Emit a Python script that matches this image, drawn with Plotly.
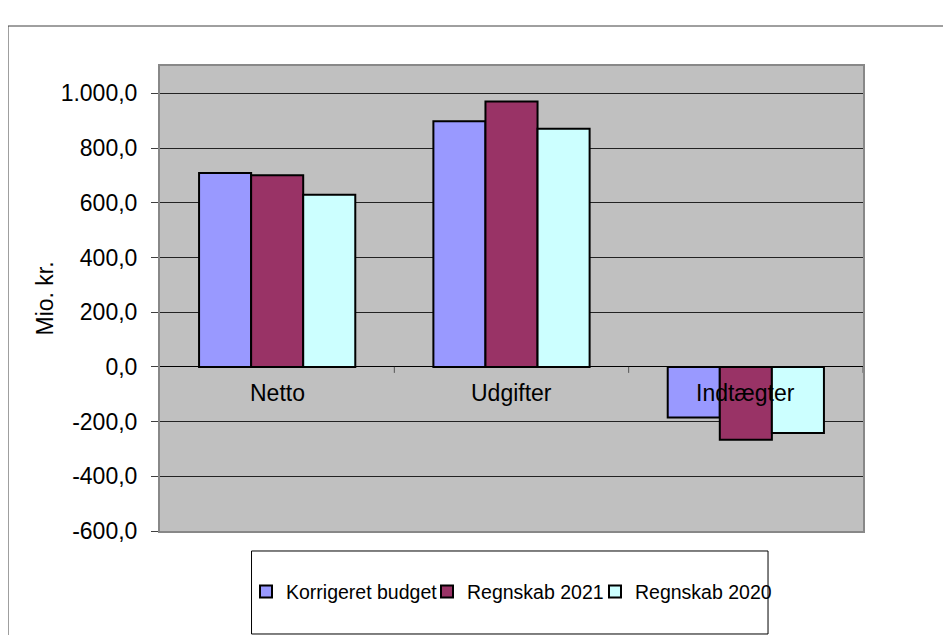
import plotly.graph_objects as go

categories = ["Netto", "Udgifter", "Indtægter"]
series_names = ["Korrigeret budget", "Regnskab 2021", "Regnskab 2020"]
korrigeret_budget = [709, 898, -185]
regnskab_2021 = [701, 970, -266]
regnskab_2020 = [629, 871, -242]
series_values = [korrigeret_budget, regnskab_2021, regnskab_2020]
series_colors = ["#9999FF", "#993366", "#CCFFFF"]

y_tickvals = [-600, -400, -200, 0, 200, 400, 600, 800, 1000]
y_ticktext = ["-600,0", "-400,0", "-200,0", "0,0", "200,0", "400,0", "600,0", "800,0", "1.000,0"]
y_title = "Mio. kr."

FONT = "Liberation Sans, Arial, sans-serif"
LEGEND_ENTRY_WIDTHS = [136, 123, 140]

fig = go.Figure()
for name, vals, col, lw in zip(series_names, series_values, series_colors, LEGEND_ENTRY_WIDTHS):
    fig.add_trace(go.Bar(
        x=categories, y=vals, name=name, legendwidth=lw,
        marker=dict(color=col, line=dict(color="black", width=2)),
    ))

shapes = []
# category boundary tick marks on the zero line
for i in range(1, len(categories) + 1):
    shapes.append(dict(type="line", xref="x", yref="y", x0=i - 0.5, x1=i - 0.5,
                       ysizemode="pixel", yanchor=0, y0=0, y1=-6,
                       line=dict(color="#555555", width=1)))
# outer chart frame
shapes.append(dict(type="rect", xref="paper", yref="paper",
                   x0=-0.2162, x1=1.2, y0=1.086, y1=-0.3,
                   line=dict(color="#404040", width=1), layer="below"))
# legend frame
shapes.append(dict(type="rect", xref="paper", yref="paper",
                   x0=0.1302, x1=0.8649, y0=-0.043, y1=-0.2215,
                   line=dict(color="black", width=1)))

annotations = []
for c in categories:
    annotations.append(dict(x=c, y=0, xref="x", yref="y", text=c, showarrow=False,
                            xanchor="center", yanchor="middle", yshift=-26,
                            font=dict(family=FONT, size=23, color="black")))
annotations.append(dict(x=0, y=0.5, xref="paper", yref="paper", text=y_title,
                        showarrow=False, textangle=-90, xshift=-116,
                        xanchor="center", yanchor="middle",
                        font=dict(family=FONT, size=23, color="black")))

fig.update_layout(
    width=943, height=627,
    margin=dict(l=152, r=88, t=58, b=104),
    paper_bgcolor="white", plot_bgcolor="#C0C0C0",
    barmode="group", bargap=1/3, bargroupgap=0,
    font=dict(family=FONT, size=23, color="black"),
    showlegend=True,
    legend=dict(orientation="h", x=0.1223, xanchor="left", y=-0.131, yanchor="middle",
                font=dict(family=FONT, size=19.5, color="black"),
                bgcolor="rgba(0,0,0,0)", borderwidth=0, traceorder="normal"),
    shapes=shapes, annotations=annotations,
    xaxis=dict(range=[-0.5, 2.5], showticklabels=False, ticks="", showgrid=False,
               showline=True, linecolor="#888888", linewidth=2, mirror=True,
               zeroline=False, fixedrange=True),
    yaxis=dict(range=[-600, 1100], tickvals=y_tickvals, ticktext=y_ticktext,
               ticks="outside", ticklen=7, tickwidth=1, tickcolor="#404040",
               ticklabelstandoff=9,
               showgrid=True, gridcolor="#222222", gridwidth=1,
               zeroline=True, zerolinecolor="black", zerolinewidth=1,
               showline=True, linecolor="#888888", linewidth=2, mirror=True,
               tickfont=dict(family=FONT, size=23, color="black"), fixedrange=True),
)

fig.write_html("out.html")
